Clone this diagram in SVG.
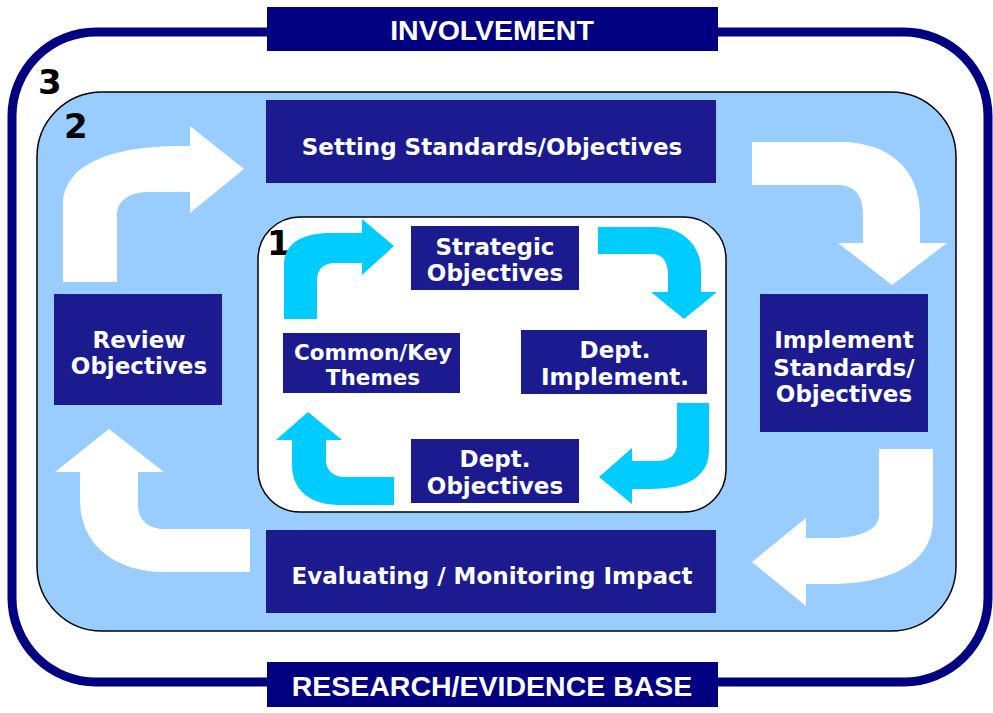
<svg xmlns="http://www.w3.org/2000/svg" width="993" height="713" viewBox="0 0 993 713">
<style>
.node{fill:#1B1B8F}
.nt{fill:#fff;font-family:"DejaVu Sans",Verdana,sans-serif;font-weight:bold;font-size:23px;text-anchor:middle}
.ban{fill:#000080}
.bt{fill:#fff;font-family:"Liberation Sans",Arial,sans-serif;font-weight:bold;font-size:28.5px;text-anchor:middle}
.num{fill:#000;font-family:"DejaVu Sans",Verdana,sans-serif;font-weight:bold;font-size:34px}
.wa{fill:#fff}
.ca{fill:#00CCFF}
</style>
<rect width="993" height="713" fill="#fff"/>
<g id="frame2">
<rect x="37" y="92" width="919" height="539" rx="65" fill="#99CCFF" stroke="#000" stroke-width="1.5"/>
<text class="num" x="64" y="138">2</text>
</g>
<g id="frame3">
<rect x="12" y="32" width="976" height="650" rx="84" fill="none" stroke="#000080" stroke-width="9"/>
<text class="num" x="38" y="94">3</text>
</g>
<g id="frame1">
<rect x="258" y="217" width="468" height="295" rx="42" fill="#fff" stroke="#000" stroke-width="1.5"/>
<text class="num" x="267" y="255">1</text>
</g>
<g id="connectors">
<path class="wa" d="M63,282 V205 C63,165 110,146 180,146 H190 V126 L244,169 L190,213 V192 H150 C130,192 117,200 117,215 V282 Z"/>
<path class="wa" d="M752,142 H840 C890,142 920,170 920,215 V243 H947 L892,285 L838,243 H863 V215 C863,195 855,185 837,185 H752 Z"/>
<path class="wa" d="M879,449 H933 V520 C933,560 895,584 830,584 H806 V606 L752,562 L806,518 V538 H830 C860,538 879,530 879,515 Z"/>
<path class="wa" d="M250,529 H165 C148,529 138,520 138,505 V472 H164 L109,429 L55,472 H80 V500 C80,545 115,572 165,572 H250 Z"/>
<path class="ca" d="M284,319 V265 C284,245 300,233 330,233 H362 V219 L394,246 L362,275 V263 H335 C323,263 317,270 317,280 V319 Z"/>
<path class="ca" d="M598,227 H655 C682,227 701,245 701,270 V292 H717 L684,319 L651,292 H668 V275 C668,262 663,254 652,254 H598 Z"/>
<path class="ca" d="M677,403 H709 V450 C709,475 690,489 650,489 H632 V504 L599,477 L632,448 V461 H655 C670,461 677,455 677,443 Z"/>
<path class="ca" d="M394,477 H345 C333,477 326,470 326,460 V440 H342 L308,412 L276,440 H292 V465 C292,490 310,505 340,505 H394 Z"/>
</g>
<g id="involvement">
<rect class="ban" x="267" y="7" width="451" height="44"/>
<text class="bt" x="492" y="40">INVOLVEMENT</text>
</g>
<g id="research">
<rect class="ban" x="267" y="662" width="451" height="45"/>
<text class="bt" x="492" y="696">RESEARCH/EVIDENCE BASE</text>
</g>
<g id="setting">
<rect class="node" x="266" y="100" width="450" height="83"/>
<text class="nt" x="492" y="155">Setting Standards/Objectives</text>
</g>
<g id="implement">
<rect class="node" x="760" y="294" width="168" height="138"/>
<text class="nt" x="844" y="348">Implement</text>
<text class="nt" x="844" y="376">Standards/</text>
<text class="nt" x="844" y="402">Objectives</text>
</g>
<g id="evaluating">
<rect class="node" x="266" y="530" width="450" height="83"/>
<text class="nt" x="492" y="584">Evaluating / Monitoring Impact</text>
</g>
<g id="review">
<rect class="node" x="54" y="294" width="168" height="111"/>
<text class="nt" x="139" y="348">Review</text>
<text class="nt" x="139" y="374">Objectives</text>
</g>
<g id="strategic">
<rect class="node" x="411" y="226" width="168" height="64"/>
<text class="nt" x="495" y="255">Strategic</text>
<text class="nt" x="495" y="281">Objectives</text>
</g>
<g id="common">
<rect class="node" x="283" y="333" width="177" height="60"/>
<text class="nt" x="373" y="360" style="font-size:21.5px">Common/Key</text>
<text class="nt" x="373" y="385" style="font-size:21.5px">Themes</text>
</g>
<g id="deptimpl">
<rect class="node" x="521" y="330" width="186" height="64"/>
<text class="nt" x="615" y="358">Dept.</text>
<text class="nt" x="615" y="385">Implement.</text>
</g>
<g id="deptobj">
<rect class="node" x="411" y="439" width="168" height="64"/>
<text class="nt" x="495" y="467">Dept.</text>
<text class="nt" x="495" y="494">Objectives</text>
</g>
</svg>
